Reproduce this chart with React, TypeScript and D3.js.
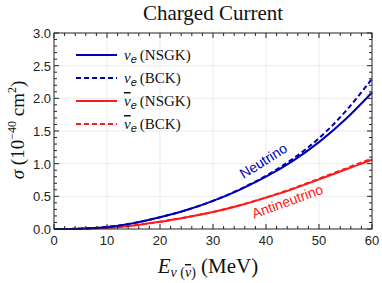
import React from "react";
import * as d3 from "d3";

const energies = [0, 2, 5, 10, 15, 20, 25, 30, 35, 40, 45, 50, 55, 60];
const nuNSGK = [0, 0, 0.005, 0.03, 0.09, 0.18, 0.29, 0.43, 0.6, 0.8, 1.04, 1.33, 1.68, 2.09];
const nuBCK = [0, 0, 0.005, 0.03, 0.09, 0.18, 0.29, 0.43, 0.605, 0.815, 1.07, 1.39, 1.8, 2.3];
const nubarNSGK = [0, 0, 0.004, 0.02, 0.055, 0.11, 0.18, 0.26, 0.36, 0.48, 0.61, 0.76, 0.91, 1.06];
const nubarBCK = [0, 0, 0.004, 0.02, 0.055, 0.11, 0.18, 0.26, 0.362, 0.483, 0.617, 0.77, 0.925, 1.08];
const xTicks = [0, 10, 20, 30, 40, 50, 60];
const yTicks = [0, 0.5, 1.0, 1.5, 2.0, 2.5, 3.0];

const BLUE = "#0000b4";
const RED = "#ff1a1a";

export default function App() {
  const W = 382, H = 283;
  const L = 54, R = 372, T = 33, B = 229;
  const x = d3.scaleLinear().domain([0, 60]).range([L, R]);
  const y = d3.scaleLinear().domain([0, 3]).range([B, T]);
  const line = (vals: number[]) =>
    d3.line<number>().x((_, i) => x(energies[i])).y((v) => y(v)).curve(d3.curveMonotoneX)(vals) || "";

  const xMinor = d3.range(0, 60.01, 2).filter((v) => !xTicks.includes(v));
  const yMinor = d3.range(0, 3.001, 0.1).filter((v) => !yTicks.some((t) => Math.abs(t - v) < 1e-6));

  const sans = "'Liberation Sans', Arial, sans-serif";
  const serif = "'Liberation Serif', 'Times New Roman', serif";

  const legend = [
    { color: BLUE, dash: undefined, bar: false, src: "NSGK" },
    { color: BLUE, dash: "5,3", bar: false, src: "BCK" },
    { color: RED, dash: undefined, bar: true, src: "NSGK" },
    { color: RED, dash: "5,3", bar: true, src: "BCK" },
  ];

  return (
    <svg width={W} height={H} style={{ position: "absolute", left: 0, top: 0, background: "#fff" }}>
      {xTicks.slice(1, -1).map((t) => (
        <line key={"gx" + t} x1={x(t)} x2={x(t)} y1={T} y2={B} stroke="#ebebeb" strokeWidth={1} />
      ))}
      {yTicks.slice(1, -1).map((t) => (
        <line key={"gy" + t} x1={L} x2={R} y1={y(t)} y2={y(t)} stroke="#ebebeb" strokeWidth={1} />
      ))}
      <path d={line(nubarNSGK)} fill="none" stroke={RED} strokeWidth={2} />
      <path d={line(nubarBCK)} fill="none" stroke={RED} strokeWidth={2} strokeDasharray="5,3" />
      <path d={line(nuNSGK)} fill="none" stroke={BLUE} strokeWidth={2} />
      <path d={line(nuBCK)} fill="none" stroke={BLUE} strokeWidth={2} strokeDasharray="5,3" />
      <rect x={L} y={T} width={R - L} height={B - T} fill="none" stroke="#222" strokeWidth={1} />
      {xTicks.map((t) => (
        <g key={"xt" + t}>
          <line x1={x(t)} x2={x(t)} y1={B} y2={B - 5} stroke="#222" />
          <line x1={x(t)} x2={x(t)} y1={T} y2={T + 5} stroke="#222" />
        </g>
      ))}
      {xMinor.map((t) => (
        <g key={"xm" + t}>
          <line x1={x(t)} x2={x(t)} y1={B} y2={B - 3} stroke="#222" />
          <line x1={x(t)} x2={x(t)} y1={T} y2={T + 3} stroke="#222" />
        </g>
      ))}
      {yTicks.map((t) => (
        <g key={"yt" + t}>
          <line x1={L} x2={L + 5} y1={y(t)} y2={y(t)} stroke="#222" />
          <line x1={R} x2={R - 5} y1={y(t)} y2={y(t)} stroke="#222" />
        </g>
      ))}
      {yMinor.map((t) => (
        <g key={"ym" + t}>
          <line x1={L} x2={L + 3} y1={y(t)} y2={y(t)} stroke="#222" />
          <line x1={R} x2={R - 3} y1={y(t)} y2={y(t)} stroke="#222" />
        </g>
      ))}
      {xTicks.map((t) => (
        <text key={"xl" + t} x={x(t)} y={B + 16} textAnchor="middle" fontFamily={sans} fontSize={13} fill="#222">
          {t}
        </text>
      ))}
      {yTicks.map((t) => (
        <text key={"yl" + t} x={L - 3} y={y(t) + 5} textAnchor="end" fontFamily={sans} fontSize={13} fill="#222">
          {t.toFixed(1)}
        </text>
      ))}
      <text x={213} y={20} textAnchor="middle" fontFamily={serif} fontSize={21} fill="#111">
        Charged Current
      </text>
      <text x={208} y={273} textAnchor="middle" fontFamily={serif} fontSize={21} fill="#111">
        <tspan fontStyle="italic">E</tspan>
        <tspan fontSize={14} dy={4} fontStyle="italic">ν</tspan>
        <tspan fontSize={14}> (</tspan>
        <tspan fontSize={14} fontStyle="italic" textDecoration="overline">ν</tspan>
        <tspan fontSize={14}>)</tspan>
        <tspan dy={-4}> (MeV)</tspan>
      </text>
      <text transform={`translate(24,130) rotate(-90)`} textAnchor="middle" fontFamily={serif} fontSize={19} fill="#111">
        <tspan fontStyle="italic">σ</tspan>
        <tspan> (10</tspan>
        <tspan fontSize={12} dy={-8}>−40</tspan>
        <tspan dy={8}> cm</tspan>
        <tspan fontSize={12} dy={-8}>2</tspan>
        <tspan dy={8}>)</tspan>
      </text>
      {legend.map((e, i) => {
        const ly = 55 + i * 23;
        return (
          <g key={"lg" + i}>
            <line x1={76} x2={117} y1={ly} y2={ly} stroke={e.color} strokeWidth={2} strokeDasharray={e.dash} />
            <text x={124} y={ly + 5} fontFamily={serif} fontSize={15} fill="#111">
              <tspan fontStyle="italic" textDecoration={e.bar ? "overline" : undefined}>ν</tspan>
              <tspan fontFamily={sans} fontStyle="italic" fontSize={11} dy={3}>e</tspan>
              <tspan dy={-3} dx={3}>({e.src})</tspan>
            </text>
          </g>
        );
      })}
      <text transform="translate(266,165) rotate(-32)" textAnchor="middle" fontFamily={sans} fontSize={14} fill={BLUE}>
        Neutrino
      </text>
      <text transform="translate(289,206) rotate(-20)" textAnchor="middle" fontFamily={sans} fontSize={14} fill={RED}>
        Antineutrino
      </text>
    </svg>
  );
}
